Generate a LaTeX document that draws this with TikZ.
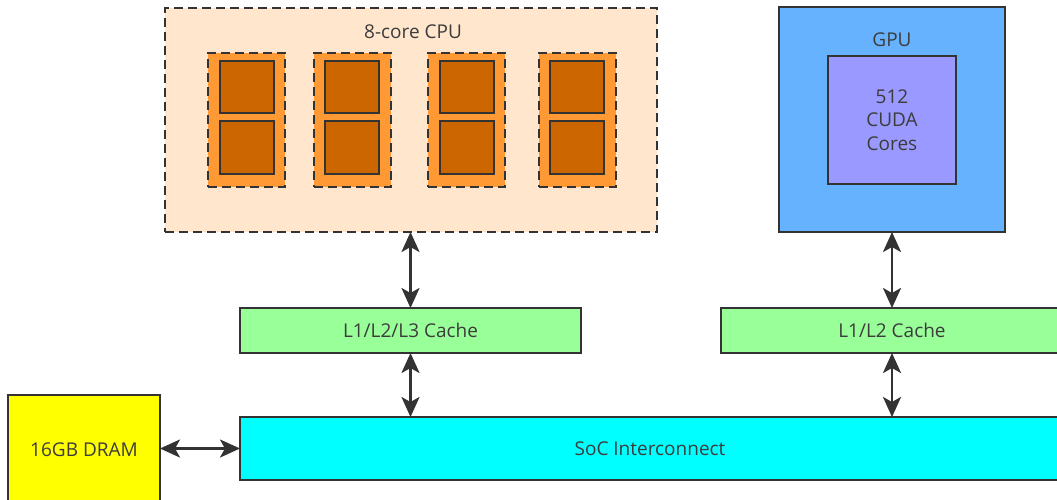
\documentclass[tikz,border=0pt]{standalone}
\usepackage{fontspec}
\setmainfont{Open Sans}
\usetikzlibrary{arrows.meta}
\definecolor{edge}{HTML}{333333}
\definecolor{txt}{HTML}{3C3C3C}
\definecolor{cpufill}{HTML}{FFE6CC}
\definecolor{corefill}{HTML}{FF9933}
\definecolor{unitfill}{HTML}{CC6600}
\definecolor{gpufill}{HTML}{66B2FF}
\definecolor{cudafill}{HTML}{9999FF}
\definecolor{cachefill}{HTML}{99FF99}
\definecolor{socfill}{HTML}{00FFFF}
\definecolor{dramfill}{HTML}{FFFF00}
\tikzset{
  box/.style={draw=edge, line width=2pt, inner sep=0pt, outer sep=0pt,
    text=txt, font=\fontsize{19}{23.5}\selectfont, align=center},
  dashbox/.style={box, dash pattern=on 9pt off 5pt},
  label/.style={text=txt, font=\fontsize{19}{23.5}\selectfont, align=center, inner sep=0pt},
  link/.style={draw=edge, line width=2.8pt,
    {Stealth[length=20pt,width=18pt,inset=5pt]}-{Stealth[length=20pt,width=18pt,inset=5pt]}}
}
\begin{document}
\begin{tikzpicture}[x=1pt, y=-1pt]
  \clip (0,0) rectangle (1057,499);
  \fill[white] (0,0) rectangle (1057,499);

  % CPU cluster with four dual-core groups
  \node[dashbox, fill=cpufill, minimum width=492pt, minimum height=224pt] (cpu) at (411,120) {};
  \node[label] (cpulabel) at (413,32) {8-core CPU};
  \foreach \i/\cx in {1/246.5, 2/352, 3/466.5, 4/577} {
    \node[dashbox, fill=corefill, minimum width=77pt, minimum height=134pt] (grp\i) at (\cx,120) {};
    \node[box, fill=unitfill, minimum width=54pt, minimum height=52pt] (core\i a) at (\cx,87) {};
    \node[box, fill=unitfill, minimum width=54pt, minimum height=53pt] (core\i b) at (\cx,147.5) {};
  }

  % GPU
  \node[box, fill=gpufill, minimum width=226pt, minimum height=225pt] (gpu) at (892,119.5) {};
  \node[label] (gpulabel) at (892,40) {GPU};
  \node[box, fill=cudafill, minimum width=128pt, minimum height=128pt] (cuda) at (892,120)
    {512\\CUDA\\Cores};

  % caches
  \node[box, fill=cachefill, minimum width=341pt, minimum height=45pt] (l3) at (410.5,330.5) {L1/L2/L3 Cache};
  \node[box, fill=cachefill, minimum width=342pt, minimum height=45pt] (l2) at (892,330.5) {L1/L2 Cache};

  % interconnect and memory
  \node[box, fill=socfill, minimum width=820pt, minimum height=63pt] (soc) at (650,448.5) {SoC Interconnect};
  \node[box, fill=dramfill, minimum width=152pt, minimum height=110pt] (dram) at (84,450) {16GB DRAM};

  % links
  \draw[link] (cpu.south -| l3.north) -- (l3.north);
  \draw[link] (l3.south) -- (l3.south |- soc.north);
  \draw[link] (gpu.south) -- (l2.north);
  \draw[link] (l2.south) -- (l2.south |- soc.north);
  \draw[link] (dram.east |- soc.west) -- (soc.west);
\end{tikzpicture}
\end{document}
